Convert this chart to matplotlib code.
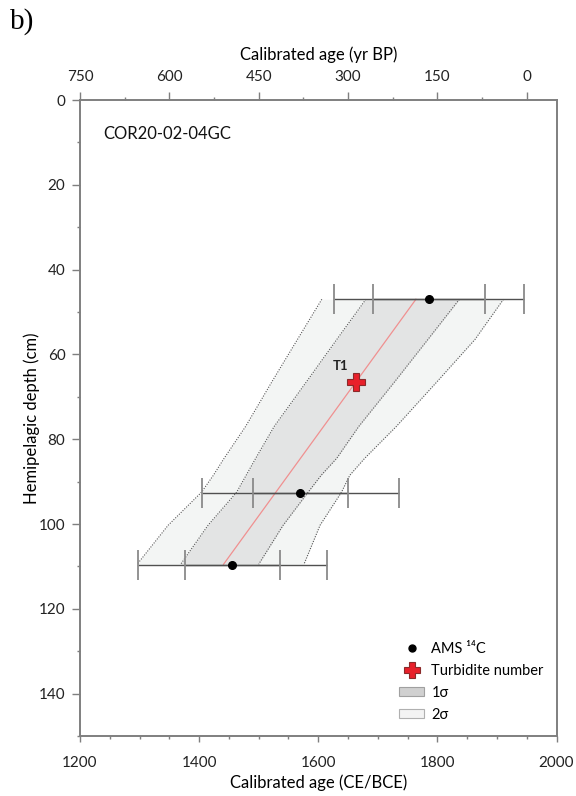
import numpy as np
import matplotlib
matplotlib.use("Agg")
import matplotlib.pyplot as plt
from matplotlib.lines import Line2D
from matplotlib.patches import Patch
from matplotlib.ticker import MultipleLocator

plt.rcParams['font.family'] = ['Lato', 'DejaVu Sans']

# AMS 14C dates: depth (cm), median age (CE) and half-widths of 1 and 2 sigma ranges
ams_depth = [47, 92.6, 109.6]
ams_age = [1786, 1570, 1456]
ams_err1 = [94, 80, 80]
ams_err2 = [160, 165, 159]

# turbidite T1
turb_depth = [66.6]
turb_age = [1663]
turb_label = ['T1']

# age model envelope
env_depth = [47, 56.5, 66.5, 77, 84.5, 88.5, 92.5, 100.3, 109.5]
lo2 = [1606, 1565, 1522, 1478, 1442, 1424, 1404, 1348, 1296]
lo1 = [1680, 1631, 1580, 1526, 1495, 1479, 1463, 1415, 1369]
hi1 = [1837, 1784, 1728, 1668, 1631, 1605, 1583, 1541, 1500]
hi2 = [1911, 1863, 1799, 1731, 1678, 1653, 1639, 1603, 1576]
med_depth = [47, 109.5]
med_age = [1764, 1441]

core_name = 'COR20-02-04GC'

fig = plt.figure(figsize=(5.76, 7.96), dpi=100)
ax = fig.add_axes([80 / 576, 1 - 736 / 796, 476.5 / 576, 636 / 796])

c_2s = '#f3f5f4'
c_1s = '#e3e4e4'
ax.fill_betweenx(env_depth, lo2, hi2, color=c_2s, lw=0, zorder=1)
ax.fill_betweenx(env_depth, lo1, hi1, color=c_1s, lw=0, zorder=2)
for edge in (lo2, lo1, hi1, hi2):
    ax.plot(edge, env_depth, color='#555555', lw=0.8, ls=(0, (1, 1.3)), zorder=3)
ax.plot(med_age, med_depth, color='#f09090', lw=0.9, zorder=4)

# error bars (2 sigma and 1 sigma share the same line)
for err in (ams_err2, ams_err1):
    eb = ax.errorbar(ams_age, ams_depth, xerr=err, fmt='none', ecolor='#505050',
                     elinewidth=1.0, capsize=11, capthick=1.3, zorder=5)
    for cap in eb[1]:
        cap.set_markeredgecolor('#8a8a8a')
ax.plot(ams_age, ams_depth, 'o', color='black', ms=5.5, zorder=6)

ax.plot(turb_age, turb_depth, 'P', color='#e8202a', mec='#8b2a2a', mew=0.8,
        ms=13, zorder=7)
for a, d, lab in zip(turb_age, turb_depth, turb_label):
    ax.annotate(lab, (a, d), xytext=(-11, 12), textcoords='offset points',
                ha='center', va='center', fontsize=9.5, fontweight='bold',
                color='#222222')

ax.text(0.048, 0.947, core_name, transform=ax.transAxes, fontsize=12,
        ha='left', va='center', color='#111111')

ax.set_xlim(1200, 2000)
ax.set_ylim(150, 0)
ax.xaxis.set_major_locator(MultipleLocator(200))
ax.xaxis.set_minor_locator(MultipleLocator(50))
ax.yaxis.set_major_locator(MultipleLocator(20))
ax.yaxis.set_minor_locator(MultipleLocator(10))
ax.set_xlabel('Calibrated age (CE/BCE)', fontsize=12, labelpad=3)
ax.set_ylabel('Hemipelagic depth (cm)', fontsize=12, labelpad=-1)

# top axis in years BP
ax2 = ax.twiny()
ax2.set_xlim(1950 - 1200, 1950 - 2000)
ax2.set_xticks([750, 600, 450, 300, 150, 0])
ax2.xaxis.set_minor_locator(MultipleLocator(75))
ax2.set_xlabel('Calibrated age (yr BP)', fontsize=12, labelpad=7)

for a in (ax, ax2):
    for s in a.spines.values():
        s.set_color('#7f7f7f')
        s.set_linewidth(1.2)
    a.tick_params(which='major', direction='out', length=5.5, width=1,
                  color='#7f7f7f', labelsize=11, labelcolor='#222222')
    a.tick_params(which='minor', direction='out', length=2.5, width=1,
                  color='#7f7f7f')
ax.tick_params(axis='x', which='major', length=4.5, pad=10)
ax.tick_params(axis='y', which='major', pad=5)
ax2.tick_params(axis='x', which='major', pad=6)

handles = [
    Line2D([], [], marker='o', color='black', ls='none', ms=5),
    Line2D([], [], marker='P', color='#e8202a', mec='#8b2a2a', mew=0.8,
           ls='none', ms=11),
    Patch(facecolor='#d0d0d0', edgecolor='#a0a0a0', lw=0.8),
    Patch(facecolor='#f3f3f3', edgecolor='#b0b0b0', lw=0.8),
]
labels = ['AMS ¹⁴C', 'Turbidite number', '1σ', '2σ']
ax.legend(handles, labels, loc='upper left', bbox_to_anchor=(0.655, 0.16),
          frameon=False, fontsize=10.5, handlelength=1.7, handleheight=0.6,
          handletextpad=0.5, labelspacing=0.55, borderpad=0)

fig.text(0.018, 0.99, 'b)', fontsize=21, family='Liberation Serif',
         ha='left', va='top')

fig.savefig('out.png', dpi=100)
